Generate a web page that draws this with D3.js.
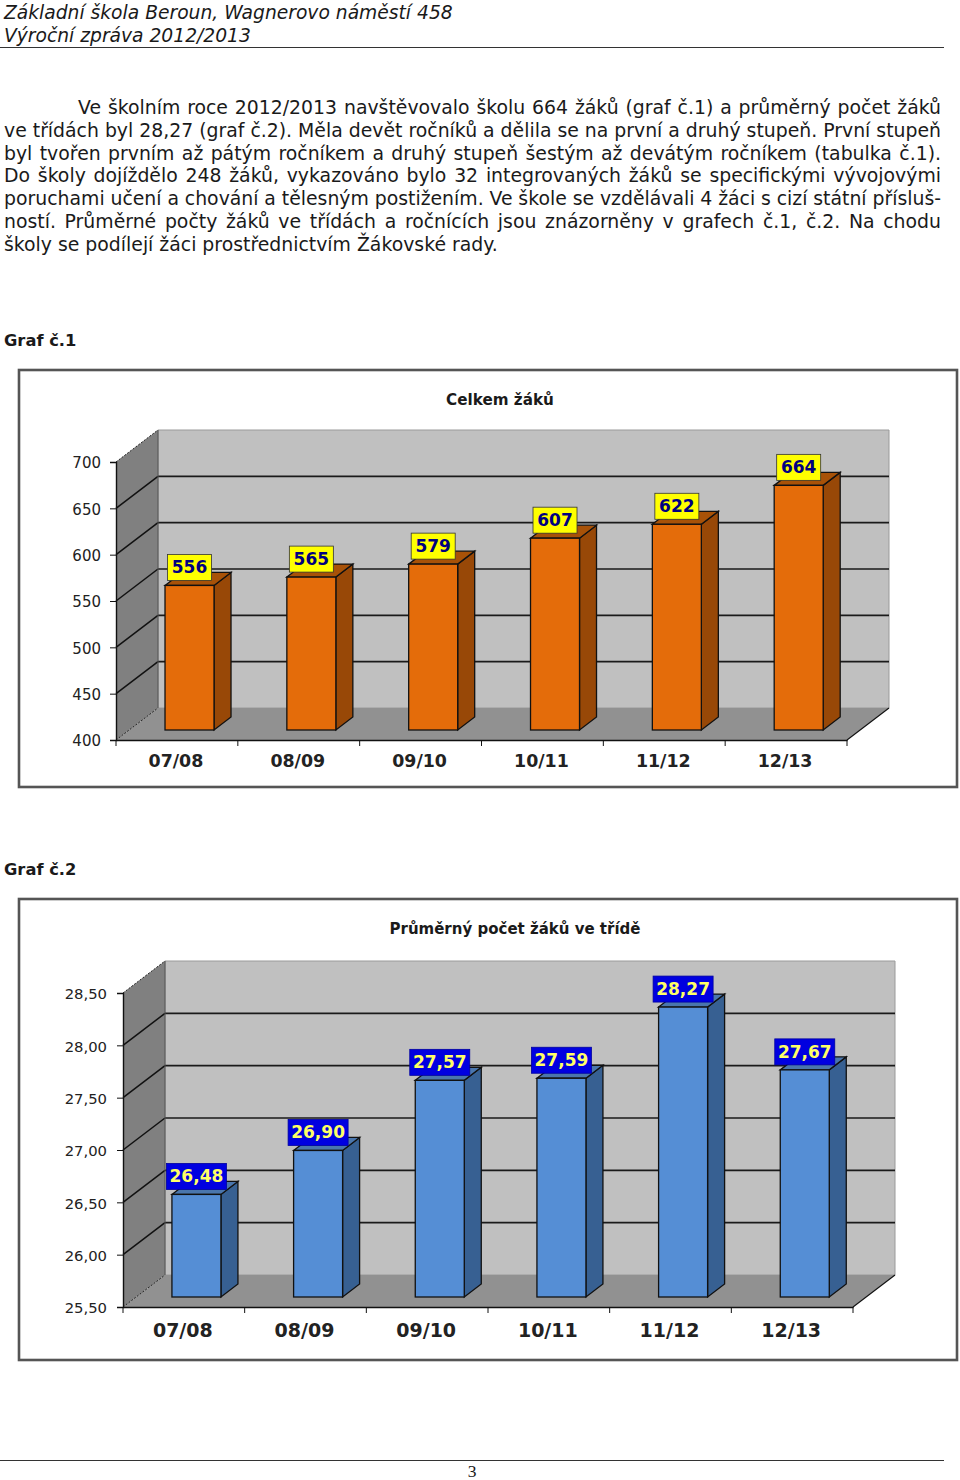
<!DOCTYPE html>
<html><head><meta charset="utf-8">
<script src="https://cdn.jsdelivr.net/npm/d3@7"></script>
<style>html,body{margin:0;padding:0;background:#fff}svg{display:block}text{font-family:"DejaVu Sans",sans-serif}</style>
</head><body><svg id="c" width="960" height="1480"></svg>
<script>
const headerLines = ["Základní škola Beroun, Wagnerovo náměstí 458","Výroční zpráva 2012/2013"];
const bodyLines = [
"Ve školním roce 2012/2013 navštěvovalo školu 664 žáků (graf č.1) a průměrný počet žáků",
"ve třídách byl 28,27 (graf č.2). Měla devět ročníků a dělila se na první a druhý stupeň. První stupeň",
"byl tvořen prvním až pátým ročníkem a druhý stupeň šestým až devátým ročníkem (tabulka č.1).",
"Do školy dojíždělo 248 žáků, vykazováno bylo 32 integrovaných žáků se specifickými vývojovými",
"poruchami učení a chování a tělesným postižením. Ve škole se vzdělávali 4 žáci s cizí státní přísluš-",
"ností. Průměrné počty žáků ve třídách a ročnících jsou znázorněny v grafech č.1, č.2. Na chodu",
"školy se podílejí žáci prostřednictvím Žákovské rady."];
const categories = ["07/08","08/09","09/10","10/11","11/12","12/13"];
const pupils = [556,565,579,607,622,664];
const pupilTicks = [400,450,500,550,600,650,700];
const classAverages = [26.48,26.90,27.57,27.59,28.27,27.67];
const averageTicks = [25.5,26,26.5,27,27.5,28,28.5];

const svg = d3.select("#c");
const ink = "#1a1a1a";

// page furniture
svg.selectAll("text.h").data(headerLines).join("text").attr("class","h")
  .attr("x",4).attr("y",(d,i)=>18.5+i*23.3).attr("font-size",18.7).attr("font-style","italic").attr("fill",ink).text(d=>d);
svg.append("line").attr("x1",0).attr("x2",944).attr("y1",47.5).attr("y2",47.5).attr("stroke","#333").attr("stroke-width",1.2);

const lastBody = bodyLines.length-1;
svg.selectAll("text.b").data(bodyLines).join("text").attr("class","b")
  .attr("x",(d,i)=>i===0?78:4).attr("y",(d,i)=>114+i*22.8).attr("font-size",18.85).attr("fill",ink).text(d=>d)
  .each(function(d,i){
    if(i===lastBody) return;
    const x0=i===0?78:4, gaps=d.split(" ").length-1;
    const w=this.getComputedTextLength();
    d3.select(this).style("word-spacing",((941-x0-w)/gaps)+"px");
  });

svg.append("text").attr("x",4).attr("y",346).attr("font-size",16.3).attr("font-weight","bold").attr("fill",ink).text("Graf č.1");
svg.append("text").attr("x",4).attr("y",875).attr("font-size",16.3).attr("font-weight","bold").attr("fill",ink).text("Graf č.2");
svg.append("line").attr("x1",0).attr("x2",944).attr("y1",1460.5).attr("y2",1460.5).attr("stroke","#333").attr("stroke-width",1.2);
svg.append("text").attr("x",472).attr("y",1477).attr("text-anchor","middle").attr("font-size",17.5)
  .style("font-family","'Liberation Serif',serif").attr("fill",ink).text("3");

function chart(o){
  const g = svg.append("g");
  g.append("rect").attr("x",o.frame[0]).attr("y",o.frame[1]).attr("width",o.frame[2]-o.frame[0]).attr("height",o.frame[3]-o.frame[1])
    .attr("fill","#fff").attr("stroke","#555").attr("stroke-width",2.6);
  g.append("text").attr("x",o.titleX).attr("y",o.titleY).attr("text-anchor","middle").attr("font-size",o.titleSize)
    .attr("font-weight","bold").attr("fill",ink).text(o.title);

  const dx=42, dy=-32, bdx=17, bdy=-13;
  const x = d3.scaleBand().domain(categories).range([o.left,o.right]);
  const y = d3.scaleLinear().domain(o.domain).range([o.bottom,o.top]);
  const floor=o.domain[0], ceil=o.domain[1];
  const pts=a=>a.map(p=>p.join(",")).join(" ");

  // walls
  g.append("polygon").attr("points",pts([[o.left+dx,y(ceil)+dy],[o.right+dx,y(ceil)+dy],[o.right+dx,y(floor)+dy],[o.left+dx,y(floor)+dy]])).attr("fill","#c0c0c0").attr("stroke","#9a9a9a");
  g.append("polygon").attr("points",pts([[o.left,y(ceil)],[o.left+dx,y(ceil)+dy],[o.left+dx,y(floor)+dy],[o.left,y(floor)]])).attr("fill","#808080");
  g.append("polygon").attr("points",pts([[o.left,y(floor)],[o.left+dx,y(floor)+dy],[o.right+dx,y(floor)+dy],[o.right,y(floor)]])).attr("fill","#919191");

  // grid lines
  const inner=o.ticks.filter(t=>t!==floor&&t!==ceil);
  g.selectAll("line.gb").data(inner).join("line").attr("x1",o.left+dx).attr("x2",o.right+dx)
    .attr("y1",d=>y(d)+dy).attr("y2",d=>y(d)+dy).attr("stroke","#1a1a1a").attr("stroke-width",1.7);
  g.selectAll("line.gs").data(inner).join("line").attr("x1",o.left).attr("x2",o.left+dx)
    .attr("y1",d=>y(d)).attr("y2",d=>y(d)+dy).attr("stroke","#111").attr("stroke-width",1.5);
  [ceil,floor].forEach(t=>g.append("line").attr("x1",o.left).attr("x2",o.left+dx).attr("y1",y(t)).attr("y2",y(t)+dy)
    .attr("stroke","#222").attr("stroke-width",1).attr("stroke-dasharray","2 1.5"));
  g.append("line").attr("x1",o.left+dx).attr("x2",o.left+dx).attr("y1",y(ceil)+dy).attr("y2",y(floor)+dy).attr("stroke","#555");
  g.append("line").attr("x1",o.right).attr("x2",o.right+dx).attr("y1",y(floor)).attr("y2",y(floor)+dy).attr("stroke","#111").attr("stroke-width",1.2);

  // bars
  const bw=49, lift=10;
  const bar=g.selectAll("g.bar").data(o.values).join("g").attr("class","bar");
  const bx=(d,i)=>x(categories[i])+(x.bandwidth()-bw)/2+o.barShift;
  bar.append("polygon").attr("points",(d,i)=>{const a=bx(d,i),b=y(d)-lift,c=y(floor)-lift;
    return pts([[a+bw,b],[a+bw+bdx,b+bdy],[a+bw+bdx,c+bdy],[a+bw,c]]);}).attr("fill",o.colors[1]).attr("stroke","#111").attr("stroke-width",1.3);
  bar.append("polygon").attr("points",(d,i)=>{const a=bx(d,i),b=y(d)-lift;
    return pts([[a,b],[a+bdx,b+bdy],[a+bw+bdx,b+bdy],[a+bw,b]]);}).attr("fill",o.colors[2]).attr("stroke","#111").attr("stroke-width",1.3);
  bar.append("rect").attr("x",bx).attr("y",d=>y(d)-lift).attr("width",bw).attr("height",d=>y(floor)-y(d))
    .attr("fill",o.colors[0]).attr("stroke","#111").attr("stroke-width",1.3);
  bar.append("rect").attr("x",(d,i)=>bx(d,i)+bw/2-o.boxW/2).attr("y",d=>y(d)-lift-5-26).attr("width",o.boxW).attr("height",26)
    .attr("fill",o.boxFill).attr("stroke",o.boxStroke).attr("stroke-width",.8);
  bar.append("text").attr("x",(d,i)=>bx(d,i)+bw/2).attr("y",d=>y(d)-lift-5-7).attr("text-anchor","middle")
    .attr("font-size",17).attr("font-weight","bold").attr("fill",o.boxText).text(o.fmt);

  // axes
  const ay=g.append("g").attr("transform",`translate(${o.left},1)`)
    .call(d3.axisLeft(y).tickValues(o.ticks).tickSize(6).tickPadding(o.yPad).tickFormat(o.tickFmt));
  ay.selectAll(".tick line").attr("transform","translate(0,-1)");
  ay.select("path.domain").attr("transform","translate(0,-1)");
  const ax=g.append("g").attr("transform",`translate(0,${o.bottom})`)
    .call(d3.axisBottom(x).tickSize(0).tickPadding(o.xPad));
  ax.selectAll("line.edge").data(d3.range(categories.length+1)).join("line").attr("class","edge")
    .attr("x1",i=>o.left+i*x.bandwidth()).attr("x2",i=>o.left+i*x.bandwidth()).attr("y1",0).attr("y2",6).attr("stroke","#111");
  [ay,ax].forEach(a=>{a.selectAll("path.domain").attr("stroke","#111").attr("stroke-width",1.4);a.selectAll(".tick line").attr("stroke","#111");});
  ay.selectAll("text").attr("font-size",o.ySize).attr("fill","#222").style("font-family","'DejaVu Sans',sans-serif");
  ax.selectAll("text").attr("font-size",o.xSize).attr("font-weight","bold").attr("fill","#222").style("font-family","'DejaVu Sans',sans-serif")
    .attr("dx",-1);
}

chart({frame:[19,370,957,787],title:"Celkem žáků",titleX:500,titleY:405,titleSize:15.2,
  left:116,right:847,bottom:740,top:462,domain:[400,700],ticks:pupilTicks,values:pupils,
  colors:["#e46c0a","#984807","#a85208"],boxFill:"#ffff00",boxStroke:"#333",boxText:"#000080",boxW:44,
  fmt:d=>d,tickFmt:d=>d,barShift:12.6,xPad:15,xSize:17.4,ySize:15,yPad:9});
chart({frame:[19,899,957,1360],title:"Průměrný počet žáků ve třídě",titleX:515,titleY:934,titleSize:15,
  left:123,right:853,bottom:1307,top:993,domain:[25.5,28.5],ticks:averageTicks,values:classAverages,
  colors:["#558ed5","#376092","#4a76ad"],boxFill:"#0000e0",boxStroke:"#0000a0",boxText:"#ffff66",boxW:60,
  fmt:d=>d3.format(".2f")(d).replace(".",","),tickFmt:d=>d3.format(".2f")(d).replace(".",","),barShift:12.6,xPad:17,xSize:19,ySize:14.8,yPad:10});
</script></body></html>
